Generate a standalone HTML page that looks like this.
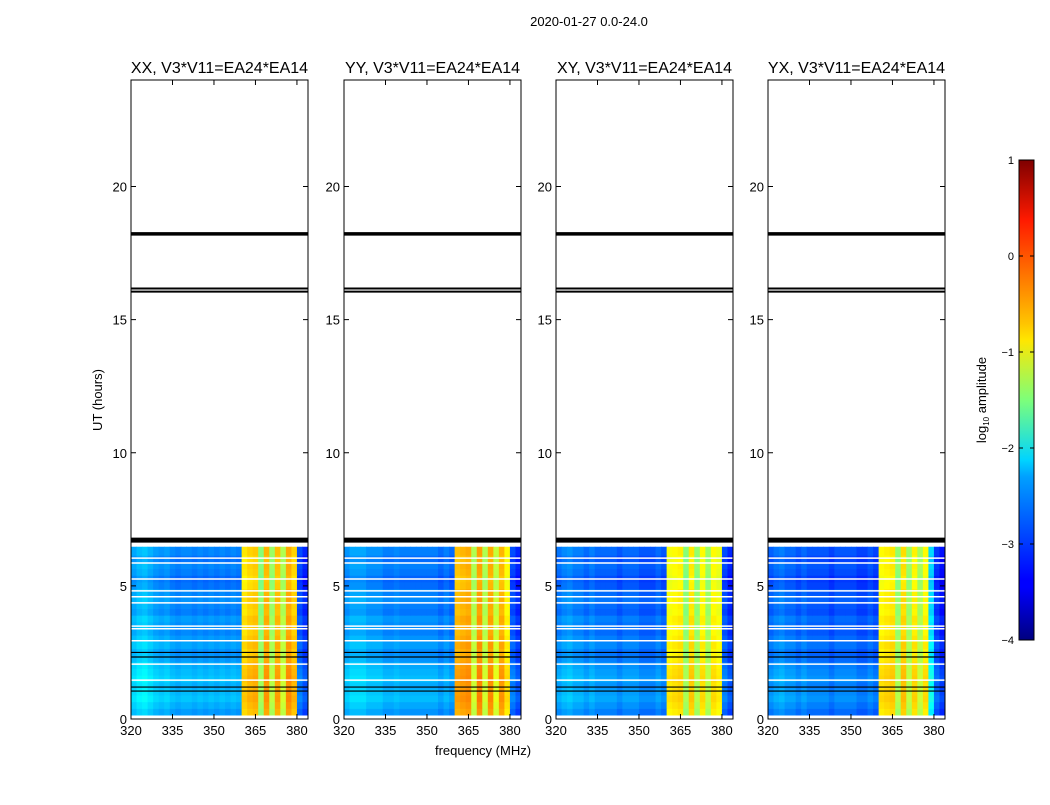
<!DOCTYPE html>
<html><head><meta charset="utf-8">
<style>
body{margin:0;background:#fff;}
svg text{font-family:"Liberation Sans",sans-serif;fill:#000;}
</style></head>
<body>
<svg id="chart" width="1050" height="800" viewBox="0 0 1050 800" xmlns="http://www.w3.org/2000/svg">
<defs>
<linearGradient id="jet" x1="0" y1="1" x2="0" y2="0">
<stop offset="0" stop-color="#00007f"/><stop offset="0.11" stop-color="#0000ff"/>
<stop offset="0.125" stop-color="#0000ff"/><stop offset="0.34" stop-color="#00a0ff"/>
<stop offset="0.375" stop-color="#00d4ff"/><stop offset="0.5" stop-color="#7dff7a"/>
<stop offset="0.625" stop-color="#ffe600"/><stop offset="0.66" stop-color="#ffc400"/>
<stop offset="0.875" stop-color="#ff1a00"/><stop offset="1" stop-color="#7f0000"/>
</linearGradient>
</defs>
<text x="589" y="26" font-size="13" text-anchor="middle">2020-01-27 0.0-24.0</text>
<text x="483" y="755" font-size="13" text-anchor="middle">frequency (MHz)</text>
<text transform="translate(102,400) rotate(-90)" font-size="13" text-anchor="middle">UT (hours)</text>
<g id="panels"></g>
<g id="cbar"></g>
</svg>
<script>
// ---- data ----
const panelTitles = ["XX, V3*V11=EA24*EA14","YY, V3*V11=EA24*EA14","XY, V3*V11=EA24*EA14","YX, V3*V11=EA24*EA14"];
const xTicks = [320,335,350,365,380];
const yTicks = [0,5,10,15,20];
const cbTicks = [1,0,-1,-2,-3,-4];
// frequency channel starts (MHz), 2 MHz wide
const freqStarts = [320,322,324,326,328,330,332,334,336,338,340,342,344,346,348,350,352,354,356,358,360,362,364,366,368,370,372,374,376,378,380,382];
// log10 amplitude vs frequency, per panel
const freqProfileXX = [-2.45,-2.35,-2.3,-2.4,-2.5,-2.55,-2.5,-2.6,-2.65,-2.6,-2.6,-2.65,-2.6,-2.65,-2.6,-2.65,-2.6,-2.65,-2.6,-2.65,-0.7,-0.6,-0.55,-1.4,-0.45,-1.3,-0.5,-1.2,-0.4,-0.6,-2.9,-3.1];
const freqProfileYY = [-2.55,-2.45,-2.45,-2.45,-2.55,-2.55,-2.55,-2.65,-2.65,-2.6,-2.65,-2.65,-2.65,-2.65,-2.65,-2.65,-2.65,-2.75,-2.65,-2.75,-0.5,-0.45,-0.4,-1.2,-0.35,-1.2,-0.4,-1.1,-0.45,-0.8,-2.9,-3.1];
const freqProfileXY = [-2.7,-2.6,-2.55,-2.65,-2.65,-2.75,-2.65,-2.75,-2.75,-2.75,-2.75,-2.85,-2.75,-2.75,-2.75,-2.85,-2.85,-2.85,-2.75,-2.85,-0.85,-0.8,-0.75,-1.4,-0.7,-1.35,-0.8,-1.3,-0.8,-0.9,-2.9,-3.1];
const freqProfileYX = [-2.8,-2.7,-2.65,-2.75,-2.75,-2.85,-2.75,-2.85,-2.85,-2.85,-2.85,-2.95,-2.85,-2.85,-2.85,-2.85,-2.95,-2.95,-2.85,-2.95,-0.8,-0.75,-0.7,-1.35,-0.65,-1.3,-0.75,-1.25,-0.8,-2.2,-3.0,-3.2];
// time row starts (hours), 0.25 h tall
const timeStarts = [0.15,0.4,0.65,0.9,1.15,1.4,1.65,1.9,2.15,2.4,2.65,2.9,3.15,3.4,3.65,3.9,4.15,4.4,4.65,4.9,5.15,5.4,5.65,5.9,6.15];
const timeOffsets = [0.0,0.1,0.2,0.15,0.1,0.2,0.15,0.1,0.0,-0.05,0.05,0.0,-0.1,-0.05,0.0,-0.15,-0.1,-0.05,-0.1,-0.2,-0.25,-0.15,-0.1,-0.2,-0.1];
const dataTop = 6.47;
const blackLines = [[6.72,5],[16.05,2],[16.17,2],[18.22,3.5],[1.05,1.2],[1.2,1.2],[2.33,1.2],[2.5,1.2]];
const whiteLines = [6.04,5.86,5.26,4.81,4.59,4.36,3.49,3.39,2.94,2.06,1.46];

const profiles=[freqProfileXX,freqProfileYY,freqProfileXY,freqProfileYX];
const panelX=[131,344,556,768], PW=177, PT=80, PB=719;
const NS="http://www.w3.org/2000/svg";
function el(t,a,p){const e=document.createElementNS(NS,t);for(const k in a)e.setAttribute(k,a[k]);p.appendChild(e);return e;}
function jet(v){let x=Math.max(0,Math.min(1,(v+4)/5));
 const f=(c)=>Math.max(0,Math.min(1,1.5-Math.abs(4*x-c)));
 const r=f(3),g=f(2),b=f(1);return `rgb(${Math.round(r*255)},${Math.round(g*255)},${Math.round(b*255)})`;}
const yS=h=>PB-(h/24)*(PB-PT);
const root=document.getElementById('panels');
panelTitles.forEach((title,pi)=>{
 const x0=panelX[pi]; const xS=f=>x0+(f-320)/64*PW;
 const g=el('g',{},root);
 
 
 const hm=el('g',{},g);
 
 
 timeStarts.forEach((t,ri)=>{
  const t1=Math.min(ri<timeStarts.length-1?timeStarts[ri+1]:dataTop,dataTop);
  freqStarts.forEach((f,ci)=>{
   const v=profiles[pi][ci]+timeOffsets[ri]*(profiles[pi][ci]<-1.8?1:0.6);
   const r=el('rect',{x:xS(f),y:yS(t1),width:xS(f+2)-xS(f)+0.5,height:yS(t)-yS(t1)+0.5,fill:jet(v)},hm);
   
   
  });
 });
 whiteLines.forEach(h=>{const l=el('line',{x1:x0,x2:x0+PW,y1:yS(h),y2:yS(h),stroke:'#fff','stroke-width':1.5},g);
  
  });
 blackLines.forEach(([h,w])=>{const l=el('line',{x1:x0,x2:x0+PW,y1:yS(h),y2:yS(h),stroke:'#000','stroke-width':w},g);
  
  });
 const fr=el('rect',{x:x0,y:PT,width:PW,height:PB-PT,fill:'none',stroke:'#000','stroke-width':1},g);
 
 
 const tt=el('text',{x:x0+PW/2,y:73,'font-size':16,'text-anchor':'middle'},g);tt.textContent=title;
 
 
 xTicks.forEach(v=>{const x=xS(v);
  el('line',{x1:x,x2:x,y1:PB,y2:PB-5,stroke:'#000'},g);el('line',{x1:x,x2:x,y1:PT,y2:PT+5,stroke:'#000'},g);
  const t=el('text',{x:x,y:PB+16,'font-size':13,'text-anchor':'middle'},g);t.textContent=v;
  
  });
 yTicks.forEach(v=>{const y=yS(v);
  el('line',{x1:x0,x2:x0+5,y1:y,y2:y,stroke:'#000'},g);el('line',{x1:x0+PW,x2:x0+PW-5,y1:y,y2:y,stroke:'#000'},g);
  const t=el('text',{x:x0-4,y:y+5,'font-size':13,'text-anchor':'end'},g);t.textContent=v;
  
  });
});
// colorbar
const cb=document.getElementById('cbar');
const cT=160,cB=640,cX=1019,cW=15;
const cbY=v=>cB-(v+4)/5*(cB-cT);
el('rect',{x:cX,y:cT,width:cW,height:cB-cT,fill:'url(#jet)',stroke:'#000','stroke-width':1},cb);
cbTicks.forEach(v=>{const y=cbY(v);
 el('line',{x1:cX,x2:cX+4,y1:y,y2:y,stroke:'#000'},cb);el('line',{x1:cX+cW,x2:cX+cW-4,y1:y,y2:y,stroke:'#000'},cb);
 const t=el('text',{x:cX-5,y:y+4,'font-size':11,'text-anchor':'end'},cb);t.textContent=(v<0?'\u2212'+(-v):v);
 
 });
const lab=el('text',{transform:'translate(986,400) rotate(-90)','font-size':13,'text-anchor':'middle'},cb);
lab.innerHTML='log<tspan font-size="8" dy="3">10</tspan><tspan dy="-3"> amplitude</tspan>';


</script>
</body></html>
